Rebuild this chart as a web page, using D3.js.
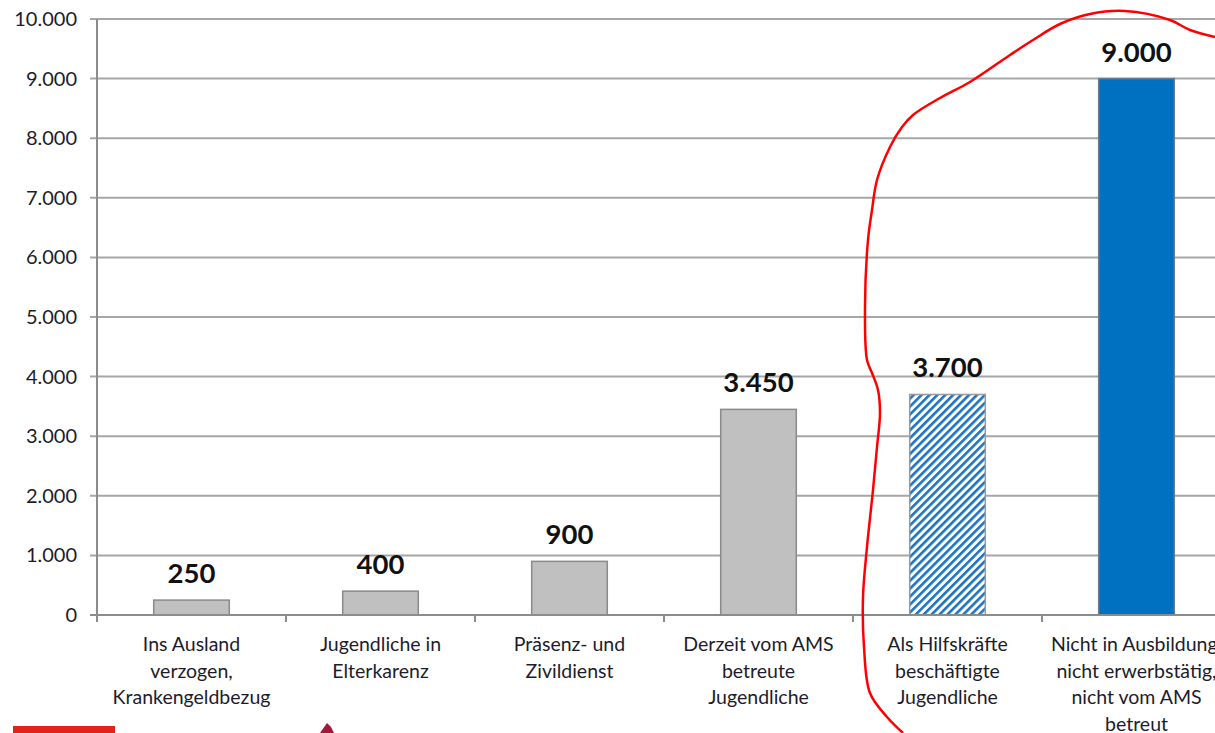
<!DOCTYPE html>
<html>
<head>
<meta charset="utf-8">
<script src="https://cdn.jsdelivr.net/npm/d3@7"></script>
<style>
  html, body { margin: 0; padding: 0; background: #fff; }
  svg { display: block; }
</style>
</head>
<body>
<div id="chart"></div>
<script>
// Data
const categories = [
  ["Ins Ausland", "verzogen,", "Krankengeldbezug"],
  ["Jugendliche in", "Elterkarenz"],
  ["Präsenz- und", "Zivildienst"],
  ["Derzeit vom AMS", "betreute", "Jugendliche"],
  ["Als Hilfskräfte", "beschäftigte", "Jugendliche"],
  ["Nicht in Ausbildung,", "nicht erwerbstätig,", "nicht vom AMS", "betreut"]
];
const values = [250, 400, 900, 3450, 3700, 9000];
const barStyles = ["grey", "grey", "grey", "grey", "hatch", "blue"];
const yTicks = [0, 1000, 2000, 3000, 4000, 5000, 6000, 7000, 8000, 9000, 10000];

const W = 1215, H = 733;
const left = 97, zeroY = 615, topY = 19;
const names = categories.map(c => c.join(" "));

const fmt = d3.formatLocale({decimal: ",", thousands: ".", grouping: [3], currency: ["", "€"]}).format(",.0f");

const svg = d3.select("#chart").append("svg")
  .attr("width", W).attr("height", H)
  .attr("font-family", "Lato, 'Noto Sans', sans-serif");

const x = d3.scaleBand()
  .domain(names)
  .range([left, left + 6 * 189])
  .paddingInner(0.6)
  .paddingOuter(0.3);

const y = d3.scaleLinear().domain([0, 10000]).range([zeroY, topY]);

// hatch pattern
const defs = svg.append("defs");
const pat = defs.append("pattern")
  .attr("id", "hatch")
  .attr("patternUnits", "userSpaceOnUse")
  .attr("width", 5.6).attr("height", 5.6)
  .attr("patternTransform", "rotate(45)");
pat.append("rect").attr("width", 5.6).attr("height", 5.6).attr("fill", "#fff");
pat.append("rect").attr("width", 2.6).attr("height", 5.6).attr("fill", "#1a74c2");

// gridlines
svg.append("g")
  .selectAll("line")
  .data(yTicks.filter(d => d > 0))
  .join("line")
  .attr("x1", left - 7).attr("x2", W)
  .attr("y1", d => y(d)).attr("y2", d => y(d))
  .attr("stroke", "#a6a6a6").attr("stroke-width", 2);

// y axis labels
svg.append("g")
  .selectAll("text")
  .data(yTicks)
  .join("text")
  .attr("x", 77)
  .attr("y", d => y(d) + 7)
  .attr("text-anchor", "end")
  .attr("font-size", 20)
  .attr("fill", "#1c1c2c")
  .text(d => fmt(d));

// bars
const fills = { grey: "#c0c0c0", hatch: "url(#hatch)", blue: "#0070c0" };
const strokes = { grey: "#8a8a8a", hatch: "#9a9a9a", blue: "#6a7d90" };
svg.append("g")
  .selectAll("rect")
  .data(values)
  .join("rect")
  .attr("x", (d, i) => x(names[i]))
  .attr("y", d => y(d))
  .attr("width", x.bandwidth())
  .attr("height", d => zeroY - y(d))
  .attr("fill", (d, i) => fills[barStyles[i]])
  .attr("stroke", (d, i) => strokes[barStyles[i]])
  .attr("stroke-width", 1.5);

// axis lines
svg.append("line")
  .attr("x1", left).attr("x2", left)
  .attr("y1", topY).attr("y2", zeroY + 7)
  .attr("stroke", "#8c8c8c").attr("stroke-width", 2);
svg.append("line")
  .attr("x1", left - 7).attr("x2", W)
  .attr("y1", zeroY).attr("y2", zeroY)
  .attr("stroke", "#8c8c8c").attr("stroke-width", 2);
// category tick marks
const step = x.step();
svg.append("g")
  .selectAll("line")
  .data(d3.range(1, 6))
  .join("line")
  .attr("x1", i => x(names[0]) - step * 0.3 + i * step)
  .attr("x2", i => x(names[0]) - step * 0.3 + i * step)
  .attr("y1", zeroY).attr("y2", zeroY + 7)
  .attr("stroke", "#8c8c8c").attr("stroke-width", 2);

// value labels
svg.append("g")
  .selectAll("text")
  .data(values)
  .join("text")
  .attr("x", (d, i) => x(names[i]) + x.bandwidth() / 2)
  .attr("y", d => y(d) - 17)
  .attr("text-anchor", "middle")
  .attr("font-size", 27.5)
  .attr("font-weight", "bold")
  .attr("fill", "#111")
  .text(d => fmt(d));

// category labels
const cat = svg.append("g")
  .selectAll("text")
  .data(categories)
  .join("text")
  .attr("x", (d, i) => x(names[i]) + x.bandwidth() / 2)
  .attr("y", 651)
  .attr("text-anchor", "middle")
  .attr("font-size", 19.5)
  .attr("fill", "#1c1c2c");
cat.selectAll("tspan")
  .data(d => d)
  .join("tspan")
  .attr("x", function () { return d3.select(this.parentNode).attr("x"); })
  .attr("dy", (d, i) => i === 0 ? 0 : 26.5)
  .text(d => d);

// hand-drawn red marker
const marker = [
  [903, 733], [887, 717], [870, 693], [864, 647], [863, 597], [867, 547], [873, 490],
  [877, 447], [880, 413], [878, 390], [872, 373], [867, 360], [865, 307], [868, 240],
  [872, 210], [877, 180], [890, 147], [902, 127], [913, 115], [940, 98], [970, 82],
  [1010, 55], [1033, 40], [1060, 24], [1090, 14], [1125, 11], [1170, 20], [1190, 30], [1215, 37]
];
svg.append("path")
  .attr("d", d3.line().curve(d3.curveCatmullRom)(marker))
  .attr("fill", "none")
  .attr("stroke", "#ff0000")
  .attr("stroke-width", 2.5);

// footer fragments
svg.append("rect")
  .attr("x", 13).attr("y", 726).attr("width", 102).attr("height", 7)
  .attr("fill", "#e2231a");
svg.append("path")
  .attr("d", "M320,733 L327,723 L331,727 L334,733 Z")
  .attr("fill", "#a5173a");
</script>
</body>
</html>
